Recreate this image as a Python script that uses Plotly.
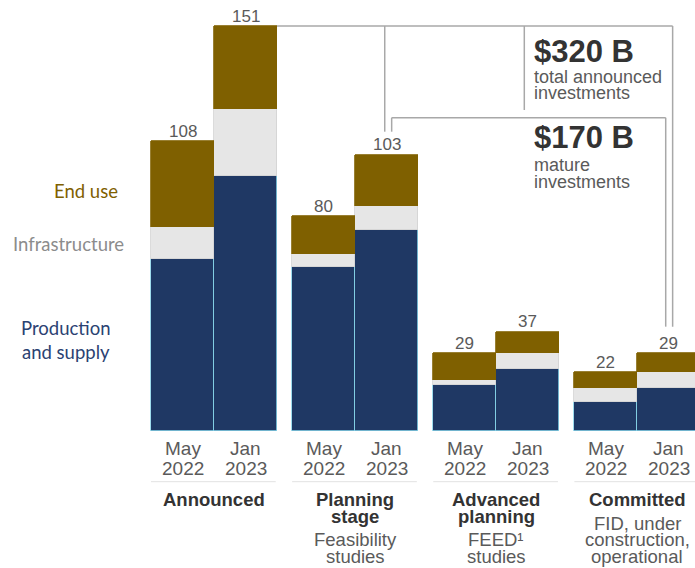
import plotly.graph_objects as go

# ---------------- data ----------------
groups = ["Announced", "Planning stage", "Advanced planning", "Committed"]
group_title_lines = [["Announced"], ["Planning", "stage"], ["Advanced", "planning"], ["Committed"]]
group_sub_lines = [[], ["Feasibility", "studies"], ["FEED¹", "studies"],
                   ["FID, under", "construction,", "operational"]]
months = ["May", "Jan"]
years = ["2022", "2023"]

production = [64, 95, 61, 75, 17, 23, 11, 16]
infrastructure = [12, 25, 5, 9, 2, 6, 5, 6]
end_use = [32, 31, 14, 19, 10, 8, 6, 7]
totals = [108, 151, 80, 103, 29, 37, 22, 29]

segment_names = ["Production and supply", "Infrastructure", "End use"]
segment_colors = ["#1f3864", "#e6e6e6", "#7f6000"]
segment_lines = ["#86d3e8", "#d2d2d2", "#7f6000"]

callout_big = ["$320 B", "$170 B"]
callout_small = [["total announced", "investments"], ["mature", "investments"]]

# ---------------- geometry ----------------
W, H = 695, 568
BASE_PX = 431          # baseline pixel row
UNIT_PX = 63           # bar width in pixels
LEFT_PX = 151          # left edge of first bar
PITCH = 2.24           # group pitch in bar widths
PXU = 2.682            # pixels per value unit
YMAX = BASE_PX / PXU
YMIN = -(H - BASE_PX) / PXU
XMIN = -LEFT_PX / UNIT_PX
XMAX = (W - LEFT_PX) / UNIT_PX


def py2y(py):
    return (BASE_PX - py) / PXU


def px2x(px):
    return (px - LEFT_PX) / UNIT_PX


xs = [g * PITCH + b + 0.5 for g in range(len(groups)) for b in range(2)]
group_centers = [g * PITCH + 1.0 for g in range(len(groups))]

FONT = "Liberation Sans, Arial, Helvetica, sans-serif"
GRAY_TXT = "#5a5a5a"
DARK_TXT = "#333333"
LINE_GRAY = "#a8a8a8"

fig = go.Figure()
for name, vals, col, lc in zip(segment_names, [production, infrastructure, end_use],
                               segment_colors, segment_lines):
    fig.add_trace(go.Bar(
        x=xs, y=vals, name=name, width=1.0,
        marker=dict(color=col, line=dict(color=lc, width=0.8)),
        showlegend=False, hoverinfo="y+name",
    ))

ann = []
# value labels
for x, t in zip(xs, totals):
    ann.append(dict(x=x, y=t, yshift=10, text=str(t), showarrow=False,
                    yanchor="middle", font=dict(size=17, color=GRAY_TXT, family=FONT)))

# period labels
for i, x in enumerate(xs):
    b = i % 2
    ann.append(dict(x=x, y=0, yshift=-17.5, text=months[b], showarrow=False,
                    yanchor="middle", font=dict(size=19, color=GRAY_TXT, family=FONT)))
    ann.append(dict(x=x, y=0, yshift=-37.5, text=years[b], showarrow=False,
                    yanchor="middle", font=dict(size=19, color=GRAY_TXT, family=FONT)))

shapes = []
# group separators and titles
for g, cx in enumerate(group_centers):
    shapes.append(dict(type="line", xref="x", yref="y",
                       x0=cx - 1.0, x1=cx + 0.98, y0=py2y(481.7), y1=py2y(481.7),
                       line=dict(color="#e2e2e2", width=1)))
    for k, line in enumerate(group_title_lines[g]):
        ann.append(dict(x=cx, y=py2y(499 + 17.7 * k), text="<b>%s</b>" % line,
                        showarrow=False, yanchor="middle",
                        font=dict(size=18.5, color=DARK_TXT, family=FONT)))
    subs = group_sub_lines[g]
    n = len(subs)
    for k, line in enumerate(subs):
        ann.append(dict(x=cx, y=py2y(556 - 16.4 * (n - 1 - k)), text=line,
                        showarrow=False, yanchor="middle",
                        font=dict(size=18.5, color=GRAY_TXT, family=FONT)))

# bracket lines
top_y = totals[1]
inner_y = py2y(117.7)
left_outer = xs[3] - 0.03
left_inner = xs[3] + 0.08
right_outer = xs[7] + 0.06
right_inner = xs[7] - 0.05
div_x = px2x(524.3)
ln = dict(color=LINE_GRAY, width=1.5)
shapes += [
    dict(type="line", xref="x", yref="y", x0=xs[1] + 0.5, x1=right_outer, y0=top_y, y1=top_y, line=ln),
    dict(type="line", xref="x", yref="y", x0=left_outer, x1=left_outer, y0=top_y, y1=totals[3] + 8.6, line=ln),
    dict(type="line", xref="x", yref="y", x0=div_x, x1=div_x, y0=top_y, y1=py2y(110), line=ln),
    dict(type="line", xref="x", yref="y", x0=right_outer, x1=right_outer, y0=top_y, y1=totals[7] + 9.9, line=ln),
    dict(type="line", xref="x", yref="y", x0=left_inner, x1=right_inner, y0=inner_y, y1=inner_y, line=ln),
    dict(type="line", xref="x", yref="y", x0=left_inner, x1=left_inner, y0=inner_y, y1=totals[3] + 8.6, line=ln),
    dict(type="line", xref="x", yref="y", x0=right_inner, x1=right_inner, y0=inner_y, y1=totals[7] + 9.9, line=ln),
]

# callouts
tx = px2x(535)
big_py = [51, 137.5]
small_py = [[77, 92.7], [165, 181.7]]
for i in range(2):
    ann.append(dict(x=tx, y=py2y(big_py[i]), text="<b>%s</b>" % callout_big[i], showarrow=False,
                    xanchor="left", yanchor="middle", xshift=-3,
                    font=dict(size=31, color=DARK_TXT, family=FONT)))
    for k, line in enumerate(callout_small[i]):
        ann.append(dict(x=tx, y=py2y(small_py[i][k]), text=line, showarrow=False,
                        xanchor="left", yanchor="middle", xshift=-3,
                        font=dict(size=18, color=GRAY_TXT, family=FONT)))

# left legend labels
LFONT = "Lato, Carlito, Calibri, sans-serif"
legend_items = [("End use", 86, 190.7, segment_colors[2]),
                ("Infrastructure", 68, 244, "#8c8c8c"),
                ("Production", 65.5, 328.3, "#2b4272"),
                ("and supply", 66, 351.7, "#2b4272")]
for txt, cxp, cyp, col in legend_items:
    ann.append(dict(x=px2x(cxp), y=py2y(cyp), text=txt, showarrow=False,
                    xanchor="center", yanchor="middle",
                    font=dict(size=18.5, color=col, family=LFONT)))

fig.update_layout(
    width=W, height=H, margin=dict(l=0, r=0, t=0, b=0),
    paper_bgcolor="white", plot_bgcolor="white",
    barmode="stack", bargap=0,
    xaxis=dict(range=[XMIN, XMAX], visible=False, fixedrange=True),
    yaxis=dict(range=[YMIN, YMAX], visible=False, fixedrange=True),
    annotations=ann, shapes=shapes,
)

fig.write_html("out.html")
